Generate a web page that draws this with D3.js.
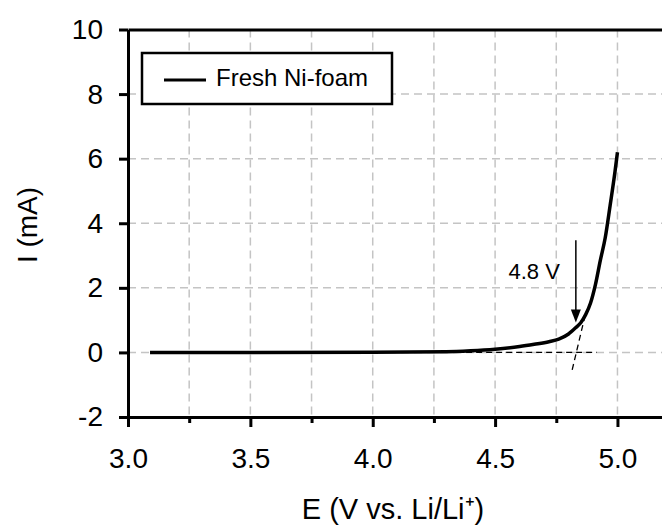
<!DOCTYPE html>
<html>
<head>
<meta charset="utf-8">
<script src="https://cdn.jsdelivr.net/npm/d3@7"></script>
<style>
  html, body { margin: 0; padding: 0; background: #fff; }
  svg { display: block; font-family: "Liberation Sans", Arial, sans-serif; }
</style>
</head>
<body>
<div id="chart"></div>
<script>
// values
const potential = [3.09, 3.5, 4.0, 4.3, 4.4, 4.5, 4.6, 4.66, 4.72, 4.76, 4.8, 4.83, 4.85, 4.87, 4.89, 4.91, 4.93, 4.95, 4.97, 4.99, 5.0];
const current   = [0, 0, 0.005, 0.02, 0.05, 0.1, 0.18, 0.25, 0.33, 0.41, 0.57, 0.77, 0.92, 1.17, 1.53, 2.1, 2.85, 3.55, 4.55, 5.6, 6.2];

const xMajor = [3.0, 3.5, 4.0, 4.5, 5.0];
const xMinor = [3.25, 3.75, 4.25, 4.75];
const xGrid = [3.25, 3.5, 3.75, 4.0, 4.25, 4.5, 4.75, 5.0];
const yTicks = [-2, 0, 2, 4, 6, 8, 10];
const yGrid = [0, 2, 4, 6, 8];

const seriesName = "Fresh Ni-foam";
const onsetLabel = "4.8 V";
const onsetE = 4.83;            // arrow position
const arrowFrom = 3.47, arrowTo = 0.93;
const tangentE = [4.815, 4.867], tangentI = [-0.54, 1.12];
const baselineE = [4.3, 4.915];

const width = 662, height = 527;

const svg = d3.select("#chart").append("svg")
  .attr("width", width)
  .attr("height", height);

const x = d3.scaleLinear().domain([3.0, 5.182]).range([128, 662]);
const y = d3.scaleLinear().domain([-2, 10]).range([417, 29.5]);

// grid
svg.append("g")
  .selectAll("line")
  .data(xGrid)
  .join("line")
  .attr("x1", d => x(d)).attr("x2", d => x(d))
  .attr("y1", y(10)).attr("y2", y(-2))
  .attr("stroke", "#c4c4c4")
  .attr("stroke-width", 1.5)
  .attr("stroke-dasharray", "8,5");

svg.append("g")
  .selectAll("line")
  .data(yGrid)
  .join("line")
  .attr("x1", x(3.0)).attr("x2", width)
  .attr("y1", d => y(d)).attr("y2", d => y(d))
  .attr("stroke", "#c4c4c4")
  .attr("stroke-width", 1.5)
  .attr("stroke-dasharray", "8,5");

// axes
svg.append("g")
  .attr("transform", `translate(0,${y(-2)})`)
  .call(d3.axisBottom(x).tickValues(xMajor).tickSize(10).tickSizeOuter(0).tickPadding(21)
    .tickFormat(d3.format(".1f")));

svg.append("g")
  .attr("transform", `translate(0,${y(-2)})`)
  .call(d3.axisBottom(x).tickValues(xMinor).tickSize(6).tickSizeOuter(0).tickFormat(""))
  .select(".domain").remove();

svg.append("g")
  .attr("transform", `translate(${x(3.0)},0)`)
  .call(d3.axisLeft(y).tickValues(yTicks).tickSize(9).tickSizeOuter(0).tickPadding(16)
    .tickFormat(d => String(d)));

svg.append("g")
  .attr("transform", `translate(0,${y(10)})`)
  .call(d3.axisTop(x).tickValues([]).tickSizeOuter(0));

svg.selectAll(".domain").attr("stroke", "#000").attr("stroke-width", 3);
svg.selectAll(".tick line").attr("stroke", "#000").attr("stroke-width", 3);
svg.selectAll(".tick text")
  .attr("font-size", 28)
  .attr("font-family", "'Liberation Sans', Arial, sans-serif")
  .attr("fill", "#000");

// helper dashed lines
svg.append("line")
  .attr("x1", x(baselineE[0])).attr("x2", x(baselineE[1]))
  .attr("y1", y(0)).attr("y2", y(0))
  .attr("stroke", "#000").attr("stroke-width", 1.3)
  .attr("stroke-dasharray", "6,4");

svg.append("line")
  .attr("x1", x(tangentE[0])).attr("x2", x(tangentE[1]))
  .attr("y1", y(tangentI[0])).attr("y2", y(tangentI[1]))
  .attr("stroke", "#000").attr("stroke-width", 1.3)
  .attr("stroke-dasharray", "6,4");

// curve
const pts = potential.map((e, i) => [e, current[i]]);
svg.append("path")
  .datum(pts)
  .attr("fill", "none")
  .attr("stroke", "#000")
  .attr("stroke-width", 3.5)
  .attr("stroke-linejoin", "round")
  .attr("d", d3.line().x(d => x(d[0])).y(d => y(d[1])).curve(d3.curveMonotoneX));

// arrow annotation
const ax = x(onsetE), ay0 = y(arrowFrom), ay1 = y(arrowTo);
svg.append("line")
  .attr("x1", ax).attr("x2", ax)
  .attr("y1", ay0).attr("y2", ay1 - 12)
  .attr("stroke", "#000").attr("stroke-width", 1.5);
svg.append("path")
  .attr("d", `M${ax - 5},${ay1 - 13}L${ax + 5},${ay1 - 13}L${ax},${ay1}Z`)
  .attr("fill", "#000");

svg.append("text")
  .attr("x", ax - 16)
  .attr("y", y(2.27))
  .attr("text-anchor", "end")
  .attr("font-size", 22)
  .text(onsetLabel);

// legend
const lg = svg.append("g");
lg.append("rect")
  .attr("x", 142).attr("y", 53)
  .attr("width", 250).attr("height", 51)
  .attr("fill", "#fff")
  .attr("stroke", "#000")
  .attr("stroke-width", 2.5);
lg.append("line")
  .attr("x1", 164).attr("x2", 206)
  .attr("y1", 80).attr("y2", 80)
  .attr("stroke", "#000").attr("stroke-width", 3);
lg.append("text")
  .attr("x", 216).attr("y", 86)
  .attr("font-size", 24)
  .text(seriesName);

// axis titles
svg.append("text")
  .attr("x", 393).attr("y", 519)
  .attr("text-anchor", "middle")
  .attr("font-size", 29)
  .text("E (V vs. Li/Li⁺)");

svg.append("text")
  .attr("transform", "translate(37,225) rotate(-90)")
  .attr("text-anchor", "middle")
  .attr("font-size", 28)
  .text("I (mA)");
</script>
</body>
</html>
